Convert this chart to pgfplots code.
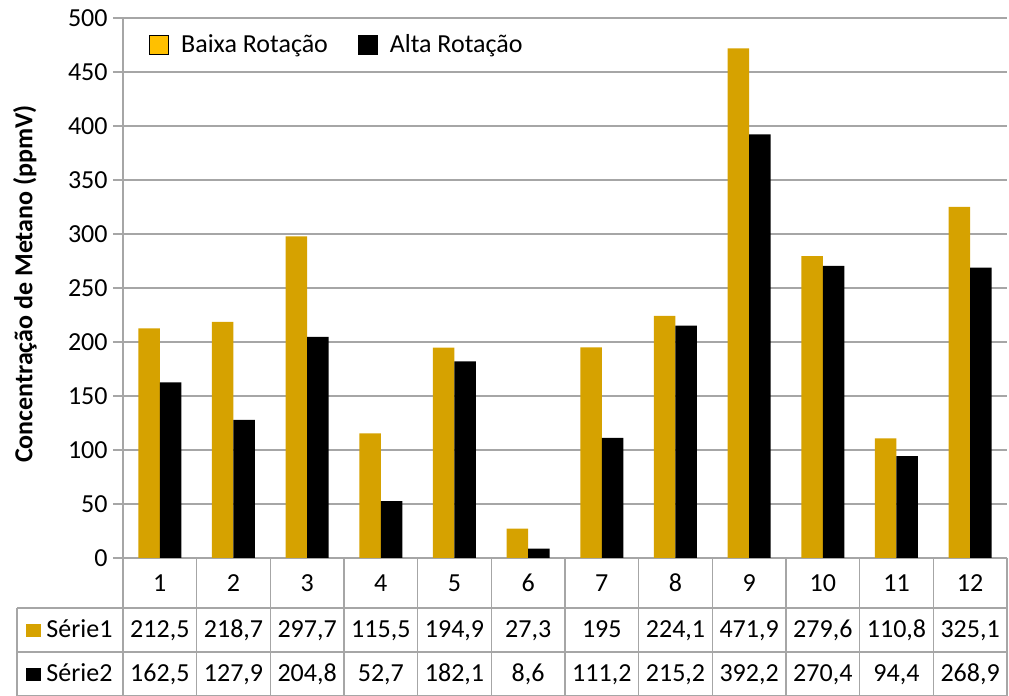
\documentclass[border=0pt]{standalone}
\usepackage{pgfplots}
\pgfplotsset{compat=1.18}
\usepackage{pgfplotstable}
\usepackage{fontspec}
\setmainfont{Carlito}
\definecolor{gold}{HTML}{D6A200}
\definecolor{legY}{HTML}{FFC000}
\definecolor{gridc}{HTML}{A6A6A6}
\newcommand\ff{\fontsize{13}{15.6}\selectfont}
\pgfplotstableread{
x s1 s2 l1 l2
1 212.5 162.5 212,5 162,5
2 218.7 127.9 218,7 127,9
3 297.7 204.8 297,7 204,8
4 115.5 52.7 115,5 52,7
5 194.9 182.1 194,9 182,1
6 27.3 8.6 27,3 8,6
7 195 111.2 195 111,2
8 224.1 215.2 224,1 215,2
9 471.9 392.2 471,9 392,2
10 279.6 270.4 279,6 270,4
11 110.8 94.4 110,8 94,4
12 325.1 268.9 325,1 268,9
}\data
\begin{document}
\begin{tikzpicture}
\begin{axis}[
  scale only axis, width=442pt, height=270pt,
  xmin=0.5, xmax=12.5, ymin=0, ymax=500,
  clip=false,
  axis lines*=left,
  axis line style={gridc, line width=0.8pt},
  xtick=\empty,
  ytick={0,50,...,500},
  tick align=outside, major tick length=5pt,
  tick style={gridc, line width=0.8pt},
  ymajorgrids, grid style={gridc, line width=0.8pt},
  /pgf/number format/assume math mode=true,
  yticklabel style={font=\ff, inner sep=0pt, xshift=-2.5pt},
  legend columns=2,
  legend style={at={(rel axis cs:0,1)}, anchor=north west, xshift=13pt, yshift=-6pt,
    draw=none, fill=none, font=\ff, inner sep=0pt,
    /tikz/every even column/.append style={column sep=13pt},
    /tikz/every odd column/.append style={column sep=4pt}},
  legend image code/.code={\fill[#1] (0pt,-4.75pt) rectangle (9.5pt,4.75pt);},
]
\addlegendimage{fill=legY}
\addlegendentry{Baixa Rotação}
\addlegendimage{fill=black}
\addlegendentry{Alta Rotação}
\addplot[forget plot, ybar, fill=gold, draw=none, bar width=10.75pt, bar shift=-5.375pt] table[x=x,y=s1]{\data};
\addplot[forget plot, ybar, fill=black, draw=none, bar width=10.75pt, bar shift=5.375pt] table[x=x,y=s2]{\data};
% data table text
\addplot[forget plot, draw=none, mark=none, nodes near coords, point meta=explicit symbolic,
  every node near coord/.append style={anchor=base, yshift=-16.8pt, inner sep=0pt, font=\ff, text=black}]
  table[x=x, y expr=0, meta=x]{\data};
\addplot[forget plot, draw=none, mark=none, nodes near coords, point meta=explicit symbolic,
  every node near coord/.append style={anchor=base, yshift=-40pt, inner sep=0pt, font=\ff, text=black}]
  table[x=x, y expr=0, meta=l1]{\data};
\addplot[forget plot, draw=none, mark=none, nodes near coords, point meta=explicit symbolic,
  every node near coord/.append style={anchor=base, yshift=-62pt, inner sep=0pt, font=\ff, text=black}]
  table[x=x, y expr=0, meta=l2]{\data};
% table grid
\pgfplotsinvokeforeach{0.5,1.5,2.5,3.5,4.5,5.5,6.5,7.5,8.5,9.5,10.5,11.5,12.5}{
  \draw[gridc, line width=0.8pt] (axis cs:#1,0) -- ++(0pt,-69pt);
}
\draw[gridc, line width=0.8pt] (axis cs:0.5,0) ++(-53pt,-25pt) -- ++(495pt,0pt);
\draw[gridc, line width=0.8pt] (axis cs:0.5,0) ++(-53pt,-47pt) -- ++(495pt,0pt);
\draw[gridc, line width=0.8pt] (axis cs:0.5,0) ++(-53pt,-69pt) -- ++(495pt,0pt);
\draw[gridc, line width=0.8pt] (axis cs:0.5,0) ++(-53pt,-25pt) -- ++(0pt,-44pt);
\fill[gold] (axis cs:0.5,0) ++(-48.5pt,-39.5pt) rectangle ++(7.5pt,6.5pt);
\fill[black] (axis cs:0.5,0) ++(-48.5pt,-61.5pt) rectangle ++(7.5pt,6.5pt);
\node[anchor=base west, font=\ff, inner sep=0pt] at ([shift={(-38.5pt,-40pt)}]axis cs:0.5,0) {Série1};
\node[anchor=base west, font=\ff, inner sep=0pt] at ([shift={(-38.5pt,-62pt)}]axis cs:0.5,0) {Série2};
\coordinate (bl) at (rel axis cs:0,0);
\end{axis}
\node[rotate=90, font=\ff\bfseries] at ([shift={(-49pt,137pt)}]bl) {Concentração de Metano (ppmV)};
\pgfresetboundingbox
\path[use as bounding box] (bl) ++(-61.5pt,-69pt) rectangle ++(504.5pt,348pt);
\end{tikzpicture}
\end{document}
